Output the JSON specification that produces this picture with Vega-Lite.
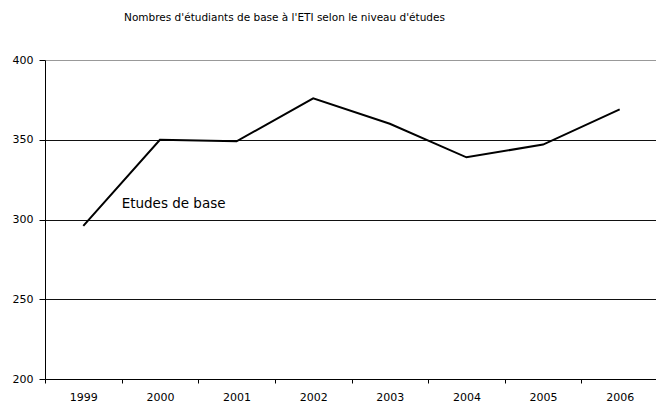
{
  "$schema": "https://vega.github.io/schema/vega-lite/v6.json",
  "autosize": {"type": "none"},
  "padding": {"left": 45, "top": 60, "right": 0, "bottom": 24},
  "width": 613,
  "height": 319,
  "background": "white",
  "title": {
    "text": "Nombres d'étudiants de base à l'ETI selon le niveau d'études",
    "font": "DejaVu Sans",
    "fontSize": 10.5,
    "fontWeight": "normal",
    "color": "#000000",
    "anchor": "middle",
    "dx": -67,
    "offset": 31
  },
  "config": {
    "view": {"stroke": null},
    "font": "DejaVu Sans"
  },
  "datasets": {
    "main": [
      {"annee": "1999", "etudiants": 296},
      {"annee": "2000", "etudiants": 350},
      {"annee": "2001", "etudiants": 349},
      {"annee": "2002", "etudiants": 376},
      {"annee": "2003", "etudiants": 360},
      {"annee": "2004", "etudiants": 339},
      {"annee": "2005", "etudiants": 347},
      {"annee": "2006", "etudiants": 369}
    ],
    "label": [
      {"annee": "2000", "etudiants": 310, "texte": "Etudes de base"}
    ]
  },
  "layer": [
    {
      "data": {"name": "main"},
      "mark": {"type": "line", "color": "#000000", "strokeWidth": 2},
      "encoding": {
        "x": {
          "field": "annee",
          "type": "ordinal",
          "scale": {"type": "band", "paddingInner": 0, "paddingOuter": 0},
          "axis": {
            "title": null,
            "labelAngle": 0,
            "tickBand": "extent",
            "domainColor": "#000000",
            "tickColor": "#000000",
            "tickSize": 4,
            "labelColor": "#000000",
            "labelFont": "DejaVu Sans",
            "labelFontSize": 11,
            "labelPadding": 8,
            "grid": false
          }
        },
        "y": {
          "field": "etudiants",
          "type": "quantitative",
          "scale": {"domain": [200, 400], "nice": false, "zero": false},
          "axis": {
            "title": null,
            "values": [200, 250, 300, 350, 400],
            "domainColor": "#000000",
            "tickColor": "#000000",
            "tickSize": 6,
            "labelColor": "#000000",
            "labelFont": "DejaVu Sans",
            "labelFontSize": 11,
            "labelPadding": 6,
            "grid": true,
            "gridColor": {"condition": {"test": "datum.value == 400", "value": "#999999"}, "value": "#111111"},
            "gridOpacity": 1
          }
        }
      }
    },
    {
      "data": {"name": "label"},
      "mark": {"type": "text", "align": "left", "baseline": "middle", "font": "DejaVu Sans", "fontSize": 13.5, "color": "#000000"},
      "encoding": {
        "x": {"field": "annee", "type": "ordinal", "bandPosition": 0},
        "y": {"field": "etudiants", "type": "quantitative"},
        "text": {"field": "texte"}
      }
    }
  ]
}
